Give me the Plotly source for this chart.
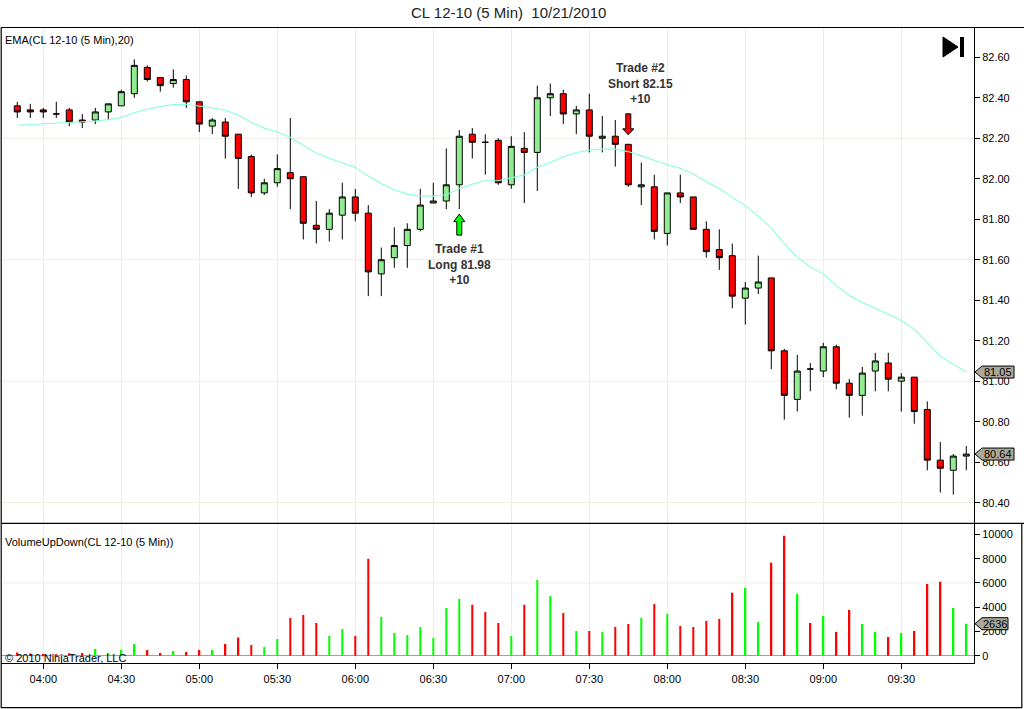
import pandas as pd
import plotly.graph_objects as go

# ---------------- data ----------------
times = pd.date_range("2010-10-21 03:50", periods=74, freq="5min")

opens = [82.36, 82.34, 82.34, 82.32, 82.34, 82.29, 82.29, 82.33, 82.36, 82.42,
         82.55, 82.50, 82.47, 82.49, 82.38, 82.26, 82.28, 82.22, 82.11, 81.93,
         81.98, 82.03, 82.01, 81.77, 81.75, 81.82, 81.91, 81.83, 81.53, 81.61,
         81.67, 81.75, 81.88, 81.89, 81.97, 82.22, 82.18, 82.19, 81.97, 82.15,
         82.13, 82.40, 82.42, 82.32, 82.34, 82.20, 82.21, 82.17, 81.96, 81.96,
         81.73, 81.93, 81.91, 81.75, 81.65, 81.62, 81.41, 81.46, 81.51, 81.15,
         80.91, 81.06, 81.05, 81.17, 80.99, 80.93, 81.05, 81.09, 81.00, 81.02,
         80.86, 80.61, 80.56, 80.63]
highs = [82.38, 82.37, 82.35, 82.38, 82.35, 82.32, 82.35, 82.37, 82.44, 82.59,
         82.56, 82.50, 82.54, 82.51, 82.38, 82.30, 82.30, 82.22, 82.12, 82.00,
         82.12, 82.30, 82.01, 81.89, 81.85, 81.98, 81.95, 81.87, 81.66, 81.76,
         81.78, 81.95, 81.98, 82.15, 82.24, 82.25, 82.22, 82.20, 82.21, 82.23,
         82.46, 82.47, 82.44, 82.36, 82.42, 82.31, 82.29, 82.17, 82.08, 82.02,
         81.93, 82.02, 81.91, 81.79, 81.75, 81.68, 81.49, 81.62, 81.51, 81.16,
         81.13, 81.09, 81.19, 81.18, 81.01, 81.07, 81.14, 81.14, 81.04, 81.02,
         80.90, 80.70, 80.64, 80.68]
lows = [82.30, 82.30, 82.30, 82.30, 82.26, 82.25, 82.27, 82.29, 82.36, 82.40,
        82.48, 82.43, 82.45, 82.35, 82.23, 82.22, 82.10, 81.95, 81.91, 81.92,
        81.96, 81.85, 81.70, 81.68, 81.69, 81.70, 81.79, 81.42, 81.42, 81.56,
        81.56, 81.74, 81.88, 81.85, 81.85, 82.10, 82.02, 81.97, 81.95, 81.88,
        81.94, 82.31, 82.27, 82.22, 82.13, 82.13, 82.06, 81.96, 81.87, 81.70,
        81.67, 81.88, 81.75, 81.61, 81.55, 81.36, 81.28, 81.43, 81.06, 80.81,
        80.85, 80.95, 81.02, 80.96, 80.82, 80.83, 80.95, 80.95, 80.85, 80.79,
        80.56, 80.45, 80.44, 80.56]
closes = [82.33, 82.33, 82.33, 82.32, 82.28, 82.28, 82.33, 82.37, 82.43, 82.56,
          82.49, 82.46, 82.49, 82.38, 82.27, 82.29, 82.21, 82.10, 81.93, 81.98,
          82.05, 82.00, 81.78, 81.75, 81.83, 81.91, 81.83, 81.54, 81.60, 81.67,
          81.75, 81.87, 81.89, 81.97, 82.21, 82.18, 82.18, 81.98, 82.16, 82.13,
          82.40, 82.42, 82.32, 82.34, 82.21, 82.21, 82.17, 81.97, 81.97, 81.74,
          81.93, 81.91, 81.75, 81.64, 81.61, 81.42, 81.46, 81.49, 81.15, 80.93,
          81.05, 81.06, 81.17, 80.99, 80.93, 81.04, 81.10, 81.01, 81.02, 80.85,
          80.61, 80.57, 80.63, 80.64]
ema20 = [82.264, 82.267, 82.272, 82.275, 82.279, 82.282, 82.285, 82.292, 82.302, 82.326,
         82.343, 82.356, 82.367, 82.367, 82.359, 82.351, 82.338, 82.315, 82.278, 82.250,
         82.231, 82.205, 82.165, 82.126, 82.101, 82.080, 82.056, 82.013, 81.976, 81.946,
         81.924, 81.915, 81.914, 81.921, 81.952, 81.973, 81.990, 81.990, 82.004, 82.019,
         82.057, 82.080, 82.108, 82.130, 82.141, 82.146, 82.146, 82.134, 82.113, 82.089,
         82.069, 82.052, 82.023, 81.985, 81.952, 81.908, 81.867, 81.815, 81.757, 81.680,
         81.613, 81.564, 81.530, 81.472, 81.423, 81.389, 81.361, 81.331, 81.298, 81.257,
         81.191, 81.124, 81.083, 81.045]
volumes = [260, 180, 150, 120, 200, 220, 550, 230, 470, 965,
           470, 220, 385, 300, 470, 470, 965, 1490, 880, 715,
           1380, 3110, 3360, 2700, 1625, 2200, 1625, 7990, 3200, 1875,
           1710, 2370, 1460, 3940, 4680, 4190, 3610, 2700, 1625, 4190,
           6250, 4930, 3530, 2040, 2040, 1960, 2370, 2620, 3110, 4270,
           3440, 2450, 2370, 2865, 3030, 5180, 5590, 2780, 7660, 9890,
           5100, 2700, 3280, 1960, 3770, 2620, 1960, 1540, 1870, 2040,
           5920, 6090, 3940, 2636]

price_ticks = [80.40, 80.60, 80.80, 81.00, 81.20, 81.40, 81.60, 81.80, 82.00, 82.20, 82.40, 82.60]
price_grid = [80.40, 81.00, 81.60, 82.20]
volume_ticks = [0, 2000, 4000, 6000, 8000, 10000]
volume_grid = [6000]

trade_bars = [34, 47]
trade_sides = ["Long", "Short"]
trade_prices = [81.98, 82.15]
trade_profit = ["+10", "+10"]

# ---------------- geometry helpers ----------------
W, H = 1024, 709
def px(x):
    return x / W
def py(y):
    return 1 - y / H

GRID = "#EEEDE2"
FONT = "Liberation Sans, Arial, sans-serif"
vol_colors = ["#00FF00" if c > o else "#FF0000" for o, c in zip(opens, closes)]

fig = go.Figure()
fig.add_trace(go.Candlestick(
    x=times, open=opens, high=highs, low=lows, close=closes,
    increasing=dict(fillcolor="#90EE90", line=dict(color="black", width=1)),
    decreasing=dict(fillcolor="#FF0000", line=dict(color="black", width=1)),
    whiskerwidth=0, xaxis="x", yaxis="y", showlegend=False))
fig.add_trace(go.Scatter(
    x=times, y=ema20, mode="lines", line=dict(color="#88FFD8", width=1.1),
    xaxis="x", yaxis="y", showlegend=False, hoverinfo="skip"))
fig.add_trace(go.Bar(
    x=times, y=volumes, marker=dict(color=vol_colors, line=dict(width=0)),
    width=46000, xaxis="x2", yaxis="y2", showlegend=False))

x_range = ["2010-10-21 03:43:44", "2010-10-21 09:57:58"]
common_x = dict(type="date", range=x_range, tickmode="linear",
                tick0="2010-10-21 04:00", dtick=30 * 60 * 1000,
                showgrid=True, gridcolor=GRID, gridwidth=1, zeroline=False,
                domain=[px(1), px(974)])

fig.update_layout(
    width=W, height=H, margin=dict(l=0, r=0, t=0, b=0),
    paper_bgcolor="white", plot_bgcolor="white",
    boxgap=0.34, showlegend=False, hovermode=False,
    font=dict(family=FONT, size=11, color="black"),
    xaxis=dict(**common_x, anchor="y", showticklabels=False, ticks="",
               rangeslider=dict(visible=False), showline=False),
    xaxis2=dict(**common_x, anchor="y2", matches="x", tickformat="%H:%M",
                ticks="outside", ticklen=5, tickcolor="black",
                tickfont=dict(size=11, family=FONT, color="black"),
                showline=True, linecolor="black", linewidth=1),
    yaxis=dict(domain=[py(523.3), py(27.3)], range=[80.298, 82.748], side="right",
               anchor="x", tickmode="array", tickvals=price_ticks,
               ticktext=[f"{v:.2f}" for v in price_ticks],
               ticks="outside", ticklen=5, tickcolor="black",
               tickfont=dict(size=11, family=FONT, color="black"),
               showgrid=False, zeroline=False, showline=True, linecolor="black"),
    yaxis2=dict(domain=[py(663.3), py(523.3)], range=[-627, 10915], side="right",
                anchor="x2", tickmode="array", tickvals=volume_ticks,
                ticktext=[str(v) for v in volume_ticks],
                ticks="outside", ticklen=5, tickcolor="black",
                tickfont=dict(size=11, family=FONT, color="black"),
                showgrid=False, zeroline=True, zerolinecolor="#A0A0A0",
                zerolinewidth=1, showline=True, linecolor="black"),
)

shapes = []
for v in price_grid:
    shapes.append(dict(type="line", xref="x domain", x0=0, x1=1, yref="y", y0=v, y1=v,
                       line=dict(color=GRID, width=1), layer="below"))
for v in volume_grid:
    shapes.append(dict(type="line", xref="x2 domain", x0=0, x1=1, yref="y2", y0=v, y1=v,
                       line=dict(color=GRID, width=1), layer="below"))

# frame lines (chart chrome)
def hline(y, x0, x1):
    shapes.append(dict(type="line", xref="paper", yref="paper", x0=px(x0), x1=px(x1),
                       y0=py(y), y1=py(y), line=dict(color="black", width=1.2)))
def vline(x, y0, y1):
    shapes.append(dict(type="line", xref="paper", yref="paper", x0=px(x), x1=px(x),
                       y0=py(y0), y1=py(y1), line=dict(color="black", width=1.2)))
hline(27.5, 1, 1024)
hline(523.3, 1, 1024)
hline(707.7, 1, 1022)
vline(1.2, 27.5, 708)
vline(1021.8, 523.3, 708)

# play-to-end icon
tri = [(943, 37), (958, 47), (943, 57)]
shapes.append(dict(type="path", xref="paper", yref="paper",
                   path="M " + " L ".join(f"{px(a)},{py(b)}" for a, b in tri) + " Z",
                   fillcolor="black", line=dict(color="black", width=1)))
shapes.append(dict(type="rect", xref="paper", yref="paper", x0=px(960), x1=px(964),
                   y0=py(57), y1=py(37), fillcolor="black", line=dict(width=0)))

# trade arrows (pixel-size shapes anchored at the trade bar)
def arrow_path(up, base, head, tail):
    s = 1 if up else -1
    pts = [(0, s * base), (5.5, s * head), (2.5, s * head), (2.5, s * tail),
           (-2.5, s * tail), (-2.5, s * head), (-5.5, s * head)]
    return "M " + " L ".join(f"{a},{b}" for a, b in pts) + " Z"

annotations = []
for k, i in enumerate(trade_bars):
    long_ = trade_sides[k] == "Long"
    if long_:
        anchor_y = lows[i]
        path = arrow_path(False, 5, 12.5, 26)
        color = "#00FF00"
        yanchor, yshift, xshift = "top", -31, 0
    else:
        anchor_y = highs[i]
        path = arrow_path(True, 9.5, 15.5, 30.5)
        color = "#FF0000"
        yanchor, yshift, xshift = "bottom", 36, 12
    shapes.append(dict(type="path", xref="x", yref="y", xsizemode="pixel", ysizemode="pixel",
                       xanchor=str(times[i]), yanchor=anchor_y, path=path,
                       fillcolor=color, line=dict(color="black", width=1), layer="above"))
    annotations.append(dict(
        x=times[i], y=anchor_y, xref="x", yref="y", showarrow=False,
        text=f"<b>Trade #{k + 1}<br>{trade_sides[k]} {trade_prices[k]:.2f}<br>{trade_profit[k]}</b>",
        font=dict(family=FONT, size=12, color="#333333"), align="center",
        xanchor="center", yanchor=yanchor, yshift=yshift, xshift=xshift))

# value tags on the right axis
def tag(value, yref, text):
    right = 982 + 6 * len(text) + 2
    path = (f"M {px(975)},0 L {px(982)},6 L {px(right)},6 "
            f"L {px(right)},-6 L {px(982)},-6 Z")
    shapes.append(dict(type="path", xref="paper", yref=yref, ysizemode="pixel",
                       yanchor=value, path=path, fillcolor="#ACA899",
                       line=dict(color="black", width=1), layer="above"))
    annotations.append(dict(x=px((982 + right) / 2), y=value, xref="paper", yref=yref,
                            text=text, showarrow=False, xanchor="center", yanchor="middle",
                            font=dict(family=FONT, size=11, color="black")))

tag(ema20[-1], "y", f"{ema20[-1]:.2f}")
tag(closes[-1], "y", f"{closes[-1]:.2f}")
tag(volumes[-1], "y2", f"{volumes[-1]}")

# texts
annotations.append(dict(x=px(508), y=py(13), xref="paper", yref="paper", showarrow=False,
                        text="CL 12-10 (5 Min)  10/21/2010", xanchor="center", yanchor="middle",
                        font=dict(family=FONT, size=15, color="#222222")))
annotations.append(dict(x=px(2.5), y=py(40), xref="paper", yref="paper", showarrow=False,
                        text="EMA(CL 12-10 (5 Min),20)", xanchor="left", yanchor="middle",
                        font=dict(family=FONT, size=11, color="black")))
annotations.append(dict(x=px(2.5), y=py(541.5), xref="paper", yref="paper", showarrow=False,
                        text="VolumeUpDown(CL 12-10 (5 Min))", xanchor="left", yanchor="middle",
                        font=dict(family=FONT, size=11, color="black")))
annotations.append(dict(x=px(2.5), y=py(657.5), xref="paper", yref="paper", showarrow=False,
                        text="© 2010 NinjaTrader, LLC", xanchor="left", yanchor="middle",
                        font=dict(family=FONT, size=11, color="black")))

fig.update_layout(shapes=shapes, annotations=annotations)

fig.write_html("out.html", config={"displayModeBar": False},
               post_script="document.body.style.margin='0';document.body.style.overflow='hidden';")
